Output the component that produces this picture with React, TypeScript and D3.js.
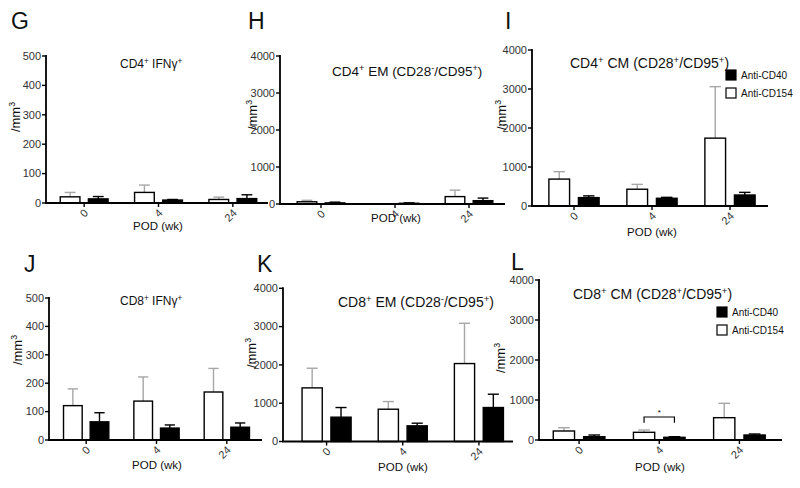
import * as d3 from 'd3';

const FONT = '"Liberation Sans", Arial, Helvetica, sans-serif';

// shared categories / series
const categories = ['0', '4', '24'];
const series = ['Anti-CD154', 'Anti-CD40']; // white bar first, black second
const legendItems = ['Anti-CD40', 'Anti-CD154'];
const ticks500 = [0, 100, 200, 300, 400, 500];
const ticks4000 = [0, 1000, 2000, 3000, 4000];

// G  CD4+ IFNg+
const gWhite = [21, 36, 12];
const gWhiteErr = [36, 61, 20];
const gBlack = [14, 10, 15];
const gBlackErr = [22, 12, 28];

// H  CD4+ EM
const hWhite = [60, 5, 200];
const hWhiteErr = [100, 8, 375];
const hBlack = [30, 20, 90];
const hBlackErr = [50, 32, 160];

// I  CD4+ CM
const iWhite = [690, 430, 1740];
const iWhiteErr = [880, 555, 3060];
const iBlack = [215, 198, 282];
const iBlackErr = [260, 222, 350];

// J  CD8+ IFNg+
const jWhite = [121, 137, 169];
const jWhiteErr = [180, 222, 252];
const jBlack = [64, 42, 45];
const jBlackErr = [96, 53, 60];

// K  CD8+ EM
const kWhite = [1400, 843, 2035];
const kWhiteErr = [1913, 1043, 3087];
const kBlack = [635, 409, 887];
const kBlackErr = [887, 478, 1235];

// L  CD8+ CM
const lWhite = [225, 192, 558];
const lWhiteErr = [308, 250, 917];
const lBlack = [83, 67, 125];
const lBlackErr = [125, 83, 150];
const lSig = { category: '4', level: 575, legEnd: 430, label: '*' };

// "^x" marks a superscript character
function rich(s: string) {
  const parts: { t: string; sup: boolean }[] = [];
  const re = /\^(.)|([^^]+)/g;
  let m: RegExpExecArray | null;
  while ((m = re.exec(s))) {
    if (m[1] !== undefined) parts.push({ t: m[1], sup: true });
    else parts.push({ t: m[2], sup: false });
  }
  return parts.map((p, i) =>
    p.sup ? (
      <tspan key={i} baselineShift='super' fontSize='68%'>
        {p.t}
      </tspan>
    ) : (
      <tspan key={i}>{p.t}</tspan>
    )
  );
}

interface PanelDef {
  letter: string;
  title: string;
  white: number[];
  whiteErr: number[];
  black: number[];
  blackErr: number[];
  max: number;
  ticks: number[];
  sig?: typeof lSig;
  legend?: boolean;
  // layout
  lx: number; ly: number;
  ax0: number; ax1: number; top: number; bottom: number;
  bx0: number; bx1: number;
  tx: number; ty: number; tsize: number;
  ylx: number; yly: number;
  px: number; py: number;
  legX?: number; legY?: number;
}

const panels: PanelDef[] = [
  { letter: 'G', title: 'CD4^+ IFNγ^+', white: gWhite, whiteErr: gWhiteErr, black: gBlack, blackErr: gBlackErr, max: 500, ticks: ticks500,
    lx: 11, ly: 29, ax0: 46, ax1: 268, top: 56, bottom: 203, bx0: 47, bx1: 270, tx: 120, ty: 68, tsize: 12, ylx: 15, yly: 117, px: 158, py: 230 },
  { letter: 'H', title: 'CD4^+ EM (CD28^-/CD95^+)', white: hWhite, whiteErr: hWhiteErr, black: hBlack, blackErr: hBlackErr, max: 4000, ticks: ticks4000,
    lx: 248, ly: 29, ax0: 280, ax1: 505, top: 56, bottom: 204, bx0: 284, bx1: 506, tx: 332, ty: 76, tsize: 13.5, ylx: 252, yly: 115, px: 396, py: 222 },
  { letter: 'I', title: 'CD4^+ CM (CD28^+/CD95^+)', white: iWhite, whiteErr: iWhiteErr, black: iBlack, blackErr: iBlackErr, max: 4000, ticks: ticks4000, legend: true,
    lx: 505, ly: 29, ax0: 532, ax1: 768, top: 50, bottom: 206, bx0: 535, bx1: 769, tx: 570, ty: 68, tsize: 14, ylx: 501, yly: 115, px: 652, py: 236, legX: 726, legY: 70 },
  { letter: 'J', title: 'CD8^+ IFNγ^+', white: jWhite, whiteErr: jWhiteErr, black: jBlack, blackErr: jBlackErr, max: 500, ticks: ticks500,
    lx: 24, ly: 272, ax0: 49, ax1: 262, top: 298, bottom: 440, bx0: 51, bx1: 262, tx: 120, ty: 305, tsize: 12, ylx: 17, yly: 350, px: 157, py: 469 },
  { letter: 'K', title: 'CD8^+ EM (CD28^-/CD95^+)', white: kWhite, whiteErr: kWhiteErr, black: kBlack, blackErr: kBlackErr, max: 4000, ticks: ticks4000,
    lx: 257, ly: 272, ax0: 283, ax1: 513, top: 288.3, bottom: 441.5, bx0: 288.5, bx1: 517, tx: 338, ty: 307, tsize: 14, ylx: 251, yly: 353, px: 403, py: 471 },
  { letter: 'L', title: 'CD8^+ CM (CD28^+/CD95^+)', white: lWhite, whiteErr: lWhiteErr, black: lBlack, blackErr: lBlackErr, max: 4000, ticks: ticks4000, sig: lSig, legend: true,
    lx: 511, ly: 270, ax0: 539, ax1: 782, top: 280, bottom: 440, bx0: 539, bx1: 779.5, tx: 573, ty: 299, tsize: 14, ylx: 500, yly: 358, px: 660, py: 471, legX: 717, legY: 307 },
];

function Panel({ p }: { p: PanelDef }) {
  const x0 = d3.scaleBand<string>().domain(categories).range([p.bx0, p.bx1]);
  const x1 = d3
    .scaleBand<string>()
    .domain(series)
    .range([0, x0.bandwidth()])
    .paddingInner(0.3)
    .paddingOuter(0.47);
  const y = d3.scaleLinear().domain([0, p.max]).range([p.bottom, p.top]);
  const bw = x1.bandwidth();
  const cap = bw * 0.55;

  const bars = categories.flatMap((c, i) => [
    { c, s: series[0], v: p.white[i], e: p.whiteErr[i], fill: '#fff', err: '#a6a6a6' },
    { c, s: series[1], v: p.black[i], e: p.blackErr[i], fill: '#000', err: '#000' },
  ]);

  return (
    <g>
      <text x={p.lx} y={p.ly} fontSize={23} fill='#111'>
        {p.letter}
      </text>
      <text x={p.tx} y={p.ty} fontSize={p.tsize} fill='#111'>
        {rich(p.title)}
      </text>

      {/* error bars (upper only) */}
      {bars.map((b, i) => {
        const cx = (x0(b.c) ?? 0) + (x1(b.s) ?? 0) + bw / 2;
        return (
          <g key={'e' + i} stroke={b.err} strokeWidth={1.4}>
            <line x1={cx} x2={cx} y1={y(b.v)} y2={y(b.e)} />
            <line x1={cx - cap / 2} x2={cx + cap / 2} y1={y(b.e)} y2={y(b.e)} />
          </g>
        );
      })}
      {bars.map((b, i) => (
        <rect
          key={'b' + i}
          x={(x0(b.c) ?? 0) + (x1(b.s) ?? 0)}
          y={y(b.v)}
          width={bw}
          height={Math.max(0, y(0) - y(b.v))}
          fill={b.fill}
          stroke='#000'
          strokeWidth={1.4}
        />
      ))}

      {/* y axis */}
      <line x1={p.ax0} x2={p.ax0} y1={p.top - 1} y2={p.bottom} stroke='#000' strokeWidth={1.8} />
      {p.ticks.map((t) => (
        <g key={'yt' + t}>
          <line x1={p.ax0 - 4} x2={p.ax0} y1={y(t)} y2={y(t)} stroke='#000' strokeWidth={1.4} />
          <text x={p.ax0 - 5} y={y(t)} dy='0.35em' textAnchor='end' fontSize={11} fill='#333'>
            {t}
          </text>
        </g>
      ))}

      {/* x axis */}
      <line x1={p.ax0 - 1} x2={p.ax1} y1={p.bottom} y2={p.bottom} stroke='#000' strokeWidth={1.8} />
      {categories.map((c) => {
        const cx = (x0(c) ?? 0) + x0.bandwidth() / 2;
        return (
          <g key={'xt' + c}>
            <line x1={cx} x2={cx} y1={p.bottom} y2={p.bottom + 4} stroke='#000' strokeWidth={1.4} />
            <text
              transform={`translate(${cx + 2},${p.bottom + 8}) rotate(-45)`}
              dy='0.35em'
              textAnchor='end'
              fontSize={11}
              fill='#333'
            >
              {c}
            </text>
          </g>
        );
      })}

      <text
        transform={`translate(${p.ylx},${p.yly}) rotate(-90)`}
        dy='0.35em'
        textAnchor='middle'
        fontSize={13}
        fill='#111'
      >
        {rich('/mm^3')}
      </text>
      <text x={p.px} y={p.py} textAnchor='middle' fontSize={11.5} fill='#111'>
        POD (wk)
      </text>

      {p.sig && (() => {
        const xa = (x0(p.sig.category) ?? 0) + (x1(series[0]) ?? 0) + bw / 2;
        const xb = (x0(p.sig.category) ?? 0) + (x1(series[1]) ?? 0) + bw / 2;
        const yl = y(p.sig.level);
        const ye = y(p.sig.legEnd);
        return (
          <g>
            <path
              d={`M${xa},${ye}V${yl}H${xb}V${ye}`}
              fill='none'
              stroke='#000'
              strokeWidth={1.2}
            />
            <text x={(xa + xb) / 2} y={yl - 2} textAnchor='middle' fontSize={8} fill='#000'>
              {p.sig.label}
            </text>
          </g>
        );
      })()}

      {p.legend &&
        legendItems.map((name, i) => (
          <g key={name} transform={`translate(${p.legX},${(p.legY ?? 0) + i * 18})`}>
            <rect
              x={0}
              y={0}
              width={10}
              height={10}
              fill={name === 'Anti-CD40' ? '#000' : '#fff'}
              stroke='#000'
              strokeWidth={1.2}
            />
            <text x={15} y={5} dy='0.35em' fontSize={10} fill='#111'>
              {name}
            </text>
          </g>
        ))}
    </g>
  );
}

export default function App() {
  return (
    <svg
      width={800}
      height={488}
      viewBox='0 0 800 488'
      style={{ position: 'absolute', left: 0, top: 0, background: '#fff' }}
      fontFamily={FONT}
    >
      <rect width={800} height={488} fill='#fff' />
      {panels.map((p) => (
        <Panel key={p.letter} p={p} />
      ))}
    </svg>
  );
}
